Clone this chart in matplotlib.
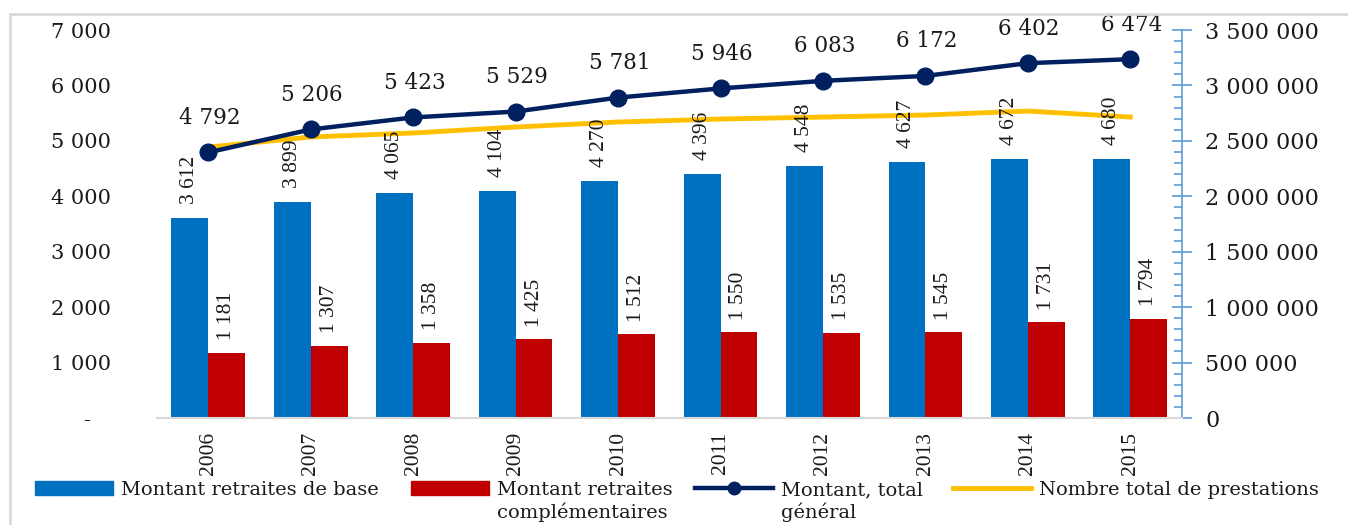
import matplotlib
matplotlib.use('Agg')
import matplotlib.pyplot as plt
from matplotlib.patches import Patch, Rectangle
from matplotlib.lines import Line2D
from matplotlib.ticker import MultipleLocator, FuncFormatter
import numpy as np

# wide serif for horizontal text (reference looks stretched), Times-like for rotated text
plt.rcParams['font.family'] = ['DejaVu Serif']
plt.rcParams['text.color'] = '#1a1a1a'
plt.rcParams['ytick.labelcolor'] = '#1a1a1a'
plt.rcParams['xtick.labelcolor'] = '#1a1a1a'
rot_font = ['Liberation Serif', 'DejaVu Serif']

years = ['2006', '2007', '2008', '2009', '2010', '2011', '2012', '2013', '2014', '2015']
base = [3612, 3899, 4065, 4104, 4270, 4396, 4548, 4627, 4672, 4680]
compl = [1181, 1307, 1358, 1425, 1512, 1550, 1535, 1545, 1731, 1794]
total = [4792, 5206, 5423, 5529, 5781, 5946, 6083, 6172, 6402, 6474]
prestations = [2444000, 2535000, 2571000, 2625000, 2670000, 2697000, 2715000, 2733000, 2769000, 2715000]

c_base = '#0070C0'
c_compl = '#C00000'
c_total = '#002060'
c_prest = '#FFC000'
c_axis = '#5B9BD5'

def fmt(v, pos=None):
    return f"{int(v):,}".replace(",", " ")

fig = plt.figure(figsize=(13.48, 5.25), dpi=100)
ax = fig.add_axes([0.1165, 0.2038, 0.760, 0.739])
ax2 = ax.twinx()

x = np.arange(len(years))
w = 0.36
ax.bar(x - w/2, base, w, color=c_base, zorder=2)
ax.bar(x + w/2, compl, w, color=c_compl, zorder=2)
for xi, v in zip(x - w/2, base):
    ax.annotate(fmt(v), (xi, v), xytext=(0, 10), textcoords='offset points',
                rotation=90, ha='center', va='bottom', fontsize=15.5, family=rot_font)
for xi, v in zip(x + w/2, compl):
    ax.annotate(fmt(v), (xi, v), xytext=(0, 9), textcoords='offset points',
                rotation=90, ha='center', va='bottom', fontsize=15.5, family=rot_font)

ax.plot(x, total, color=c_total, lw=3.2, marker='o', ms=12, zorder=5)
for xi, v in zip(x, total):
    ax.annotate(fmt(v), (xi, v), xytext=(1, 17), textcoords='offset points',
                ha='center', va='bottom', fontsize=15.5)

ax2.plot(x, prestations, color=c_prest, lw=3.5, zorder=4)
ax.set_zorder(ax2.get_zorder() + 1)
ax.patch.set_visible(False)

ax.set_xlim(-0.5, 9.5)
ax.set_ylim(0, 7000)
ax.yaxis.set_major_locator(MultipleLocator(1000))
ax.yaxis.set_major_formatter(FuncFormatter(lambda v, p: '-   ' if v == 0 else fmt(v)))
ax.tick_params(axis='y', length=0, labelsize=15, pad=33)
ax.set_xticks(x)
ax.set_xticklabels(years, rotation=90, fontsize=15.5, family=rot_font)
ax.tick_params(axis='x', length=0, pad=10)
for s in ['top', 'right', 'left']:
    ax.spines[s].set_visible(False)
ax.spines['bottom'].set_color('#D9D9D9')
ax.spines['bottom'].set_linewidth(1.5)

ax2.set_ylim(0, 3500000)
ax2.yaxis.set_major_locator(MultipleLocator(500000))
ax2.yaxis.set_minor_locator(MultipleLocator(100000))
ax2.yaxis.set_major_formatter(FuncFormatter(fmt))
ax2.tick_params(axis='y', which='major', direction='inout', length=14, width=1.2,
                color=c_axis, labelsize=16, pad=10)
ax2.tick_params(axis='y', which='minor', direction='in', length=6, width=1.2, color=c_axis)
for s in ['top', 'left', 'bottom']:
    ax2.spines[s].set_visible(False)
ax2.spines['right'].set_color(c_axis)
ax2.spines['right'].set_linewidth(1.2)

# legend: one entry per box so each sits where the reference has it
handles = [Patch(color=c_base), Patch(color=c_compl),
           Line2D([], [], color=c_total, lw=3.2, marker='o', ms=9),
           Line2D([], [], color=c_prest, lw=3.5)]
labels = ['Montant retraites de base', 'Montant retraites\ncomplémentaires',
          'Montant, total\ngénéral', 'Nombre total de prestations']
leg_x = [35, 411, 695, 953]
for h, lab, lx in zip(handles, labels, leg_x):
    leg = fig.legend([h], [lab], loc='upper left', bbox_to_anchor=(lx / 1348, 1 - 481 / 525),
                     frameon=False, fontsize=14, handlelength=4.0, handleheight=0.75,
                     handletextpad=0.4, borderpad=0, borderaxespad=0)
    for t in leg.get_texts():
        t.set_linespacing(1.25)
    # keep the marker next to the first line of a two-line label
    for col in leg._legend_handle_box.get_children():
        for item in col.get_children():
            item.align = 'top'

fig.patches.append(Rectangle((10 / 1348, -0.05), 1.0, 1.05 - 14 / 525, transform=fig.transFigure,
                             fill=False, edgecolor='#D9D9D9', lw=2))

fig.savefig('out.png', dpi=100)
